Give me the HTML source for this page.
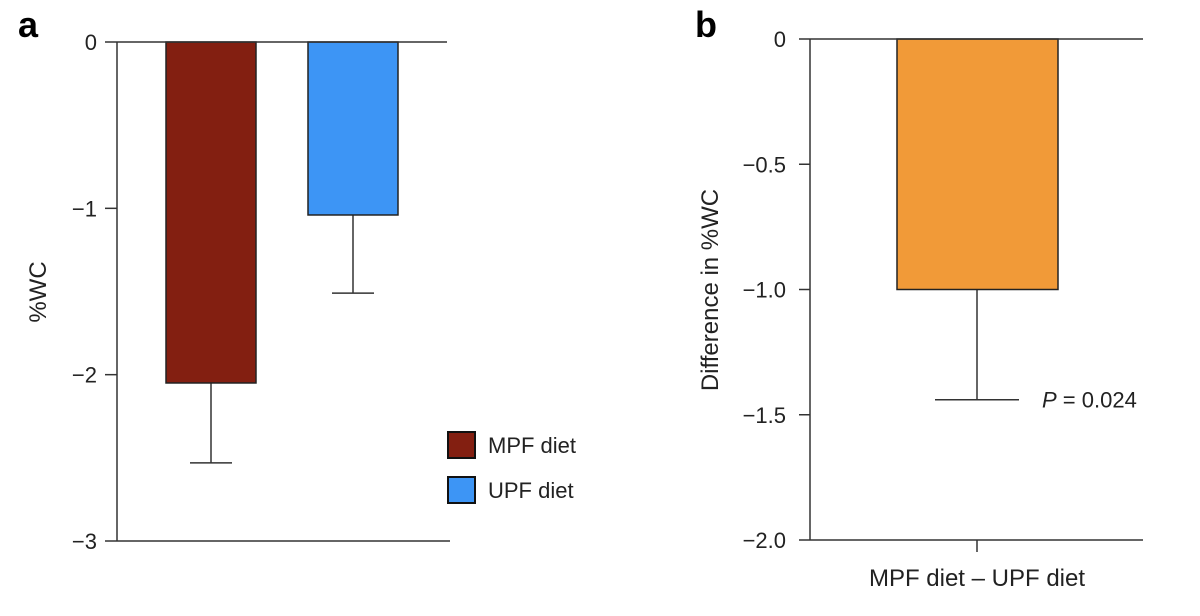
<!DOCTYPE html>
<html><head><meta charset="utf-8"><style>
html,body{margin:0;padding:0;background:#fff;}
svg{display:block;font-family:"Liberation Sans",sans-serif;}
</style></head><body>
<svg id="chart" width="1200" height="616" viewBox="0 0 1200 616">
<text x="18" y="37" font-size="36" font-weight="bold" fill="#000">a</text>
<text x="695" y="37" font-size="36" font-weight="bold" fill="#000">b</text>
<g id="pa"></g>
<g id="pb"></g>
</svg>
<script>
const catsA = ["MPF diet", "UPF diet"];
const valsA = [-2.05, -1.04];
const errA = [-2.53, -1.51];
const colorsA = ["#831f11", "#3d95f5"];
const ticksA = [0, -1, -2, -3];
const tickLabelsA = ["0", "\u22121", "\u22122", "\u22123"];
const catsB = ["MPF diet \u2013 UPF diet"];
const valsB = [-1.0];
const errB = [-1.44];
const ticksB = [0, -0.5, -1.0, -1.5, -2.0];
const tickLabelsB = ["0", "\u22120.5", "\u22121.0", "\u22121.5", "\u22122.0"];
const pText = "0.024";

const NS = "http://www.w3.org/2000/svg";
function mk(parent, tag, attrs, name, text) {
  const e = document.createElementNS(NS, tag);
  for (const k in attrs) e.setAttribute(k, attrs[k]);
  
  
  if (text !== undefined) e.textContent = text;
  parent.appendChild(e);
  return e;
}
const ax = "#333";
// Panel A
const pa = document.getElementById('pa');
const yA = v => 42 + (0 - v) / 3 * (541 - 42);
const xA0 = 117, xA1 = 450;
mk(pa, 'line', {x1: xA0, y1: yA(0), x2: xA0, y2: yA(-3), stroke: ax, 'stroke-width': 1.5}, 'y-axis-a');
mk(pa, 'line', {x1: xA0, y1: yA(-3), x2: xA1, y2: yA(-3), stroke: ax, 'stroke-width': 1.5}, 'x-axis-a');
ticksA.forEach((t, i) => {
  mk(pa, 'line', {x1: 105, y1: yA(t), x2: xA0, y2: yA(t), stroke: ax, 'stroke-width': 1.5}, 'y-tick-a');
  mk(pa, 'text', {x: 97, y: yA(t) + 8, 'font-size': 22, 'text-anchor': 'end', fill: '#222'}, 'y-tick-label-a', tickLabelsA[i]);
});
mk(pa, 'text', {x: 46, y: 292, 'font-size': 24, 'text-anchor': 'middle', fill: '#222', transform: 'rotate(-90 46 292)'}, 'y-axis-title-a', '%WC');
const barW = 90, centers = [211, 353];
catsA.forEach((c, i) => {
  const cx = centers[i];
  const yb = yA(valsA[i]), ye = yA(errA[i]);
  mk(pa, 'line', {x1: cx, y1: yb, x2: cx, y2: ye, stroke: ax, 'stroke-width': 1.5}, 'error-bar');
  mk(pa, 'line', {x1: cx - 21, y1: ye, x2: cx + 21, y2: ye, stroke: ax, 'stroke-width': 1.5}, 'error-cap');
  mk(pa, 'rect', {x: cx - barW / 2, y: yA(0), width: barW, height: yb - yA(0), fill: colorsA[i], stroke: '#222', 'stroke-width': 1.5}, 'bar-' + (i ? 'upf' : 'mpf'));
  const ly = 432 + i * 45;
  mk(pa, 'rect', {x: 448, y: ly, width: 27, height: 26, fill: colorsA[i], stroke: '#111', 'stroke-width': 2}, 'legend-swatch');
  mk(pa, 'text', {x: 488, y: ly + 21, 'font-size': 22, fill: '#222'}, 'legend-entry', c);
});
mk(pa, 'line', {x1: xA0, y1: yA(0), x2: 447, y2: yA(0), stroke: ax, 'stroke-width': 1.5}, 'zero-line-a');
// Panel B
const pb = document.getElementById('pb');
const yB = v => 39 + (0 - v) / 2 * (540 - 39);
const xB0 = 810, xB1 = 1143;
mk(pb, 'line', {x1: xB0, y1: yB(0), x2: xB0, y2: yB(-2), stroke: ax, 'stroke-width': 1.5}, 'y-axis-b');
mk(pb, 'line', {x1: xB0, y1: yB(-2), x2: xB1, y2: yB(-2), stroke: ax, 'stroke-width': 1.5}, 'x-axis-b');
ticksB.forEach((t, i) => {
  mk(pb, 'line', {x1: 799, y1: yB(t), x2: xB0, y2: yB(t), stroke: ax, 'stroke-width': 1.5}, 'y-tick-b');
  mk(pb, 'text', {x: 786, y: yB(t) + 8, 'font-size': 22, 'text-anchor': 'end', fill: '#222'}, 'y-tick-label-b', tickLabelsB[i]);
});
mk(pb, 'text', {x: 718, y: 290, 'font-size': 24, 'text-anchor': 'middle', fill: '#222', transform: 'rotate(-90 718 290)'}, 'y-axis-title-b', 'Difference in %WC');
const cB = 977;
mk(pb, 'line', {x1: cB, y1: yB(-2), x2: cB, y2: yB(-2) + 12, stroke: ax, 'stroke-width': 1.5}, 'x-tick-b');
mk(pb, 'text', {x: cB, y: 586, 'font-size': 24, 'text-anchor': 'middle', fill: '#222'}, 'x-tick-label-b', catsB[0]);
const ybB = yB(valsB[0]), yeB = yB(errB[0]);
mk(pb, 'line', {x1: cB, y1: ybB, x2: cB, y2: yeB, stroke: ax, 'stroke-width': 1.5}, 'error-bar-b');
mk(pb, 'line', {x1: 935, y1: yeB, x2: 1019, y2: yeB, stroke: ax, 'stroke-width': 1.5}, 'error-cap-b');
mk(pb, 'rect', {x: 897, y: yB(0), width: 161, height: ybB - yB(0), fill: '#f19a38', stroke: '#222', 'stroke-width': 1.5}, 'bar-difference');
mk(pb, 'line', {x1: xB0, y1: yB(0), x2: xB1, y2: yB(0), stroke: ax, 'stroke-width': 1.5}, 'zero-line-b');
const pt = mk(pb, 'text', {x: 1042, y: yeB + 8, 'font-size': 22, fill: '#222'}, 'p-value-label');
const ti = document.createElementNS(NS, 'tspan'); ti.setAttribute('font-style', 'italic'); ti.textContent = 'P';


pt.appendChild(ti);
pt.appendChild(document.createTextNode(' = ' + pText));
</script>
</body></html>
